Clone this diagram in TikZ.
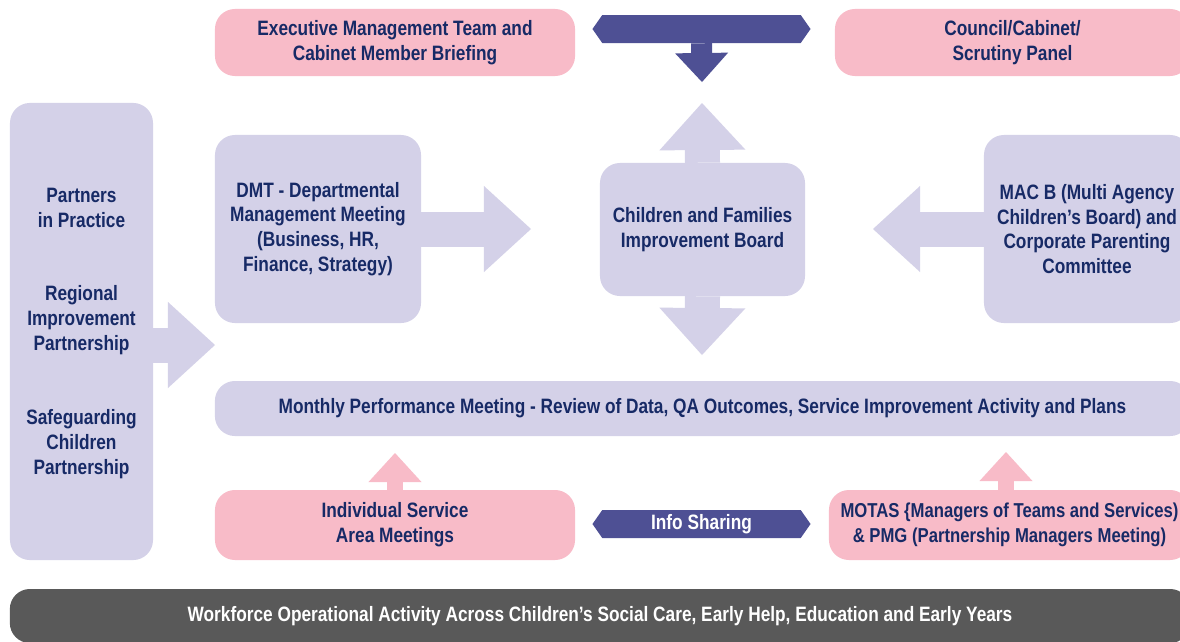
\documentclass[tikz,border=0pt]{standalone}
\usepackage{fontspec}
\setmainfont{Liberation Sans}[FakeStretch=0.83]
\usetikzlibrary{positioning, arrows.meta, shapes.symbols}

\definecolor{lav}{HTML}{D4D1E8}
\definecolor{rose}{HTML}{F8BBC8}
\definecolor{navy}{HTML}{172A66}
\definecolor{arrowblue}{HTML}{4E5094}
\definecolor{slate}{HTML}{595959}

\tikzset{
  label text/.style={align=center, text=navy, inner sep=0pt,
    font=\bfseries\fontsize{14.8}{17.6}\selectfont},
  lavbox/.style={label text, fill=lav, rounded corners=0.5cm},
  rosebox/.style={label text, fill=rose, rounded corners=0.5cm},
  fatarrow/.style={draw=lav, line width=0.875cm,
    -{Triangle[length=1.175cm, width=2.15cm, line width=0pt]}},
  smallarrow/.style={line width=0.4cm,
    -{Triangle[length=0.725cm, width=1.325cm, line width=0pt]}},
  signbox/.style={shape=signal, signal to=east and west, signal pointer angle=110,
    fill=arrowblue, inner sep=0pt, minimum height=0.7cm},
}

\begin{document}
\begin{tikzpicture}[x=0.025cm, y=-0.025cm]
  \fill[white] (0,0) rectangle (1180,641);
  \useasboundingbox (0,0) rectangle (1180,641);

  % top row
  \node[rosebox, minimum width=9cm, minimum height=1.675cm] (emt) at (395,42.5)
    {Executive Management Team and\\Cabinet Member Briefing};
  \node[rosebox, minimum width=8.875cm, minimum height=1.675cm] (council) at (1012.5,42.5)
    {Council/Cabinet/\\Scrutiny Panel};
  \node[signbox, minimum width=5.45cm] (topbar) at (701.5,29) {};

  % middle row
  \node[lavbox, minimum width=3.575cm, minimum height=11.425cm] (partners) at (81.5,331.5) {};
  \node[label text] (pip) at (81.5,208) {Partners\\in Practice};
  \node[label text] (rip) at (81.5,320) {Regional\\Improvement\\Partnership};
  \node[label text] (scp) at (81.5,444) {Safeguarding\\Children\\Partnership};

  \node[lavbox, minimum width=5.15cm, minimum height=4.7cm] (dmt) at (318,229)
    {DMT - Departmental\\Management Meeting\\(Business, HR,\\Finance, Strategy)};
  \node[lavbox, minimum width=5.125cm, minimum height=3.325cm] (cfib) at (702.5,229.5)
    {Children and Families\\Improvement Board};
  \node[lavbox, minimum width=5.15cm, minimum height=4.7cm] (macb) at (1087,229)
    {MAC B (Multi Agency\\Children's Board) and\\Corporate Parenting\\Committee};

  \node[lavbox, minimum width=24.375cm, minimum height=1.375cm] (monthly) at (702.5,408.5)
    {Monthly Performance Meeting - Review of Data, QA Outcomes, Service Improvement Activity and Plans};

  % bottom row
  \node[rosebox, minimum width=9cm, minimum height=1.75cm] (isam) at (395,525)
    {Individual Service\\Area Meetings};
  \node[signbox, minimum width=5.45cm, text=white, font=\bfseries\fontsize{14.8}{17.6}\selectfont]
    (info) at (701.5,524) {Info Sharing};
  \node[rosebox, minimum width=9.025cm, minimum height=1.75cm,
    font=\bfseries\fontsize{14.3}{17.6}\selectfont] (motas) at (1009.5,525)
    {MOTAS \{Managers of Teams and Services)\\\& PMG (Partnership Managers Meeting)};

  \node[fill=slate, rounded corners=0.5cm, minimum width=29.5cm, minimum height=1.35cm,
    text=white, font=\bfseries\fontsize{14.8}{17.6}\selectfont] (workforce) at (600,616)
    {Workforce Operational Activity Across Children's Social Care, Early Help, Education and Early Years};

  % arrow tips
  \coordinate (topTip) at (702,82);
  \coordinate (partTip) at (215,345);
  \coordinate (dmtTip) at (531,229);
  \coordinate (upTip) at (702,103);
  \coordinate (downTip) at (702,355);
  \coordinate (macTip) at (873,229);
  \coordinate (isamTip) at (395,453);
  \coordinate (motasTip) at (1006,452);

  \draw[smallarrow, draw=arrowblue, line width=0.525cm] (topbar.south) -- (topTip);
  \draw[fatarrow] (partners.east |- partTip) -- (partTip);
  \draw[fatarrow] (dmt.east) -- (dmtTip);
  \draw[fatarrow] (cfib.north) -- (upTip);
  \draw[fatarrow] (cfib.south) -- (downTip);
  \draw[fatarrow] (macb.west) -- (macTip);
  \draw[smallarrow, draw=rose] (isam.north) -- (isamTip);
  \draw[smallarrow, draw=rose] (motasTip |- motas.north) -- (motasTip);
\end{tikzpicture}
\end{document}
